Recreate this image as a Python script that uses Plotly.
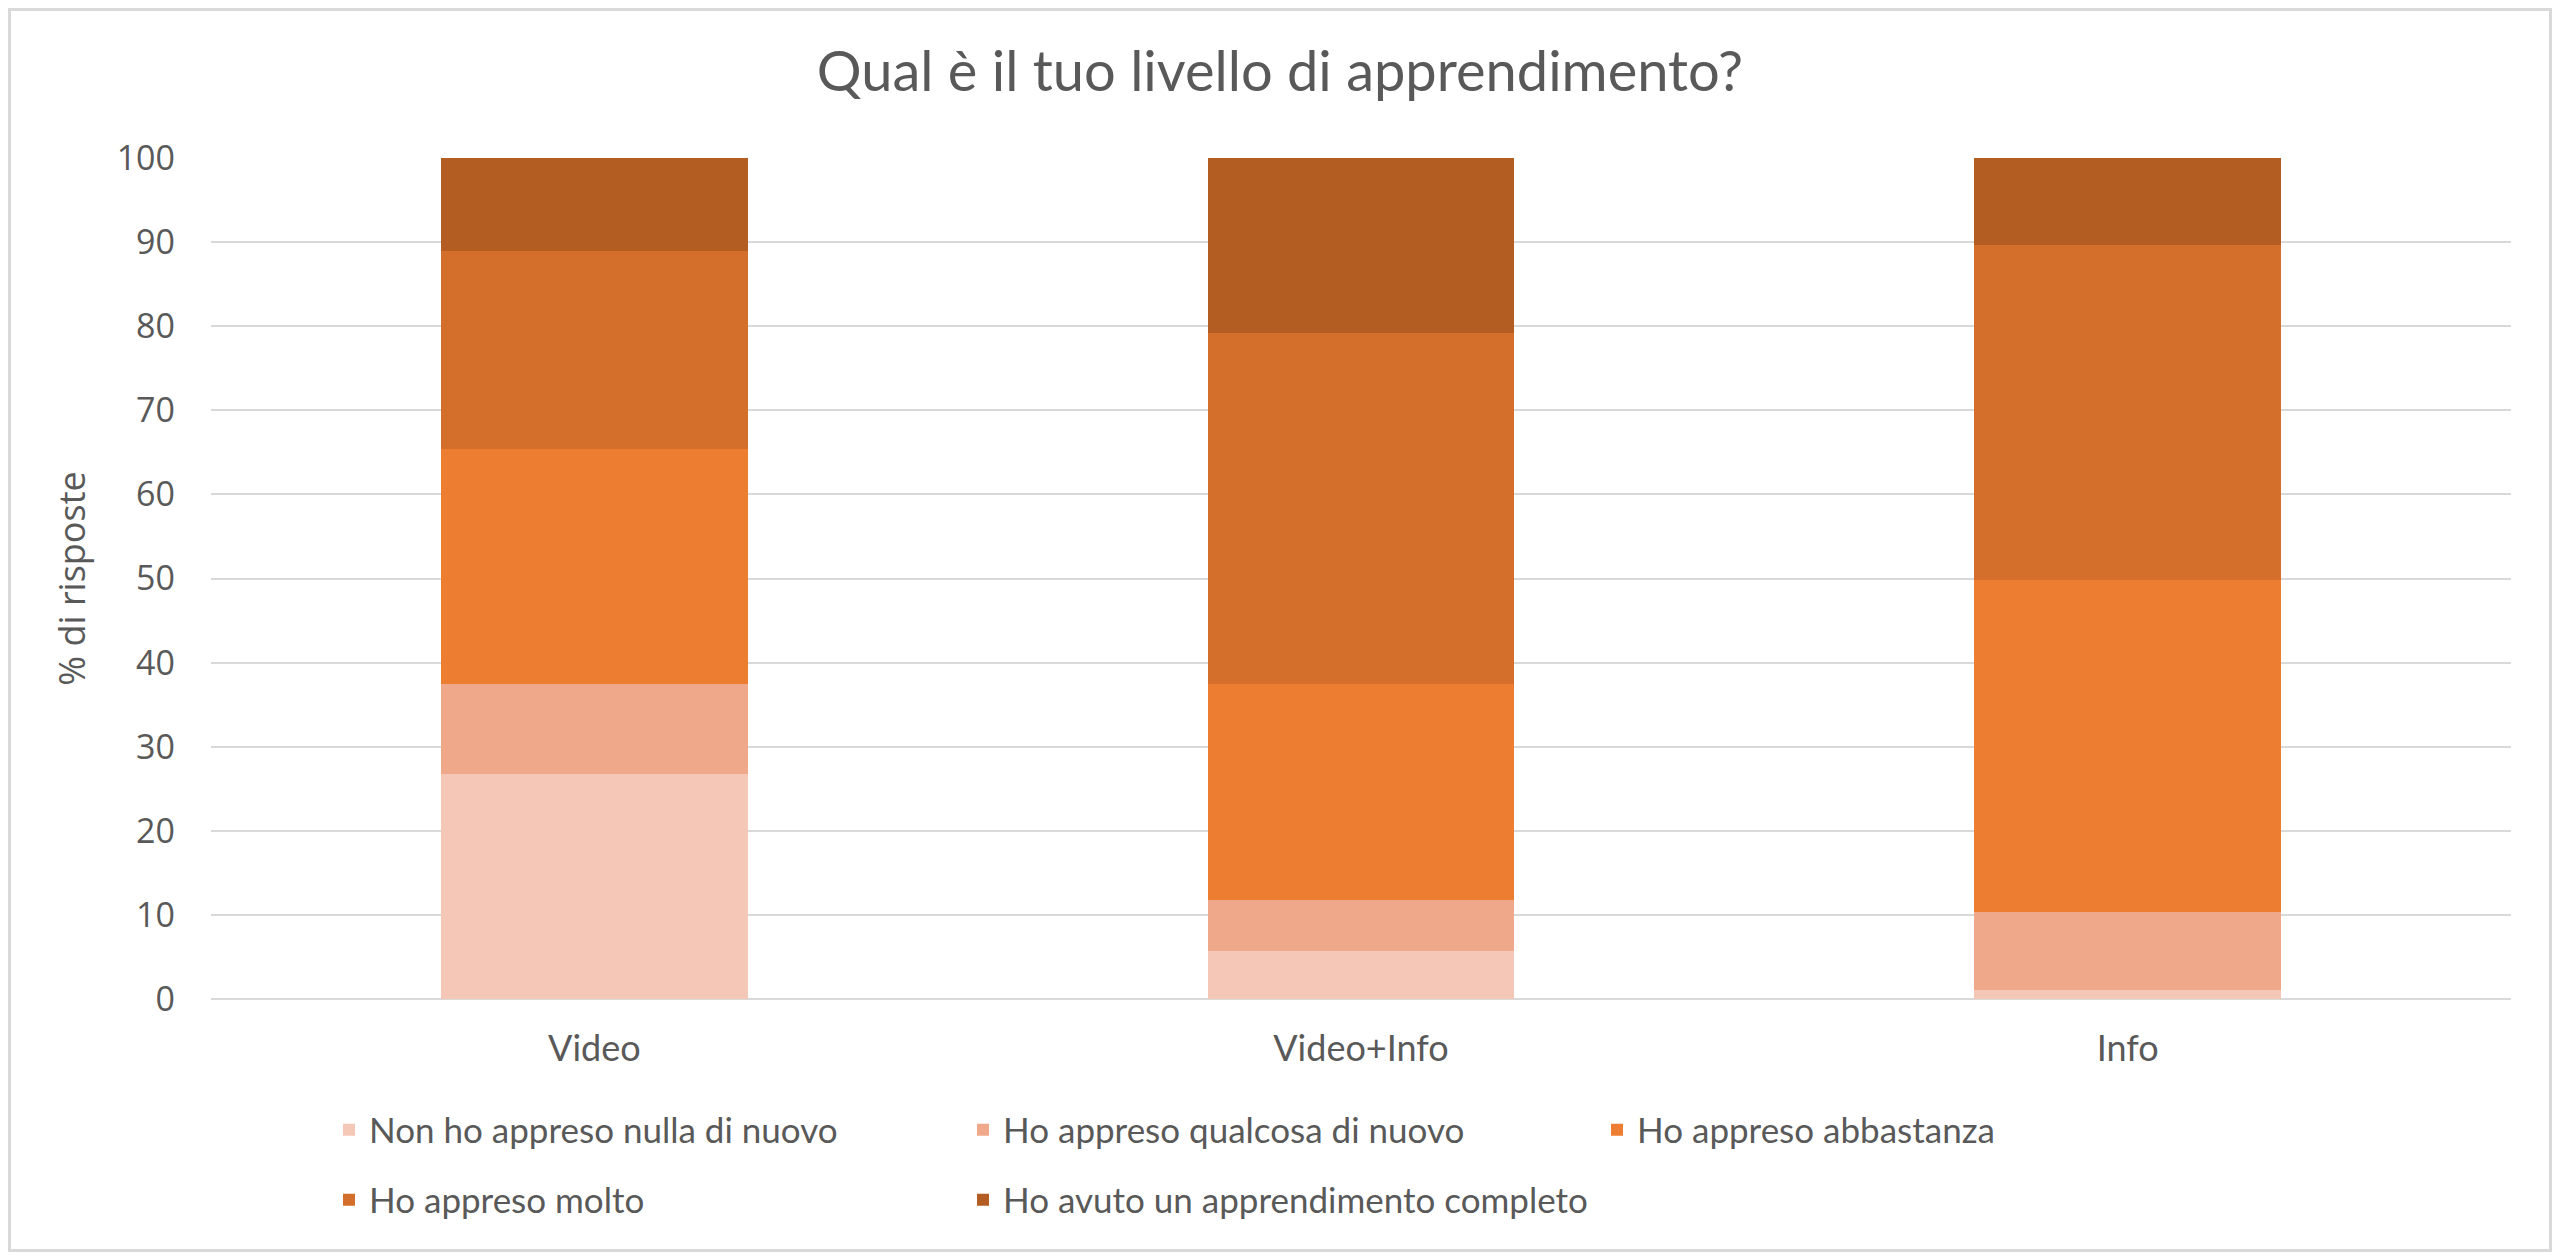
import plotly.graph_objects as go

# categories and stacked values (% of responses), bottom to top
categories = ["Video", "Video+Info", "Info"]
series_names = [
    "Non ho appreso nulla di nuovo",
    "Ho appreso qualcosa di nuovo",
    "Ho appreso abbastanza",
    "Ho appreso molto",
    "Ho avuto un apprendimento completo",
]
nulla = [26.7, 5.7, 1.1]
qualcosa = [10.7, 6.1, 9.3]
abbastanza = [28.0, 25.7, 39.4]
molto = [23.5, 41.7, 39.8]
completo = [11.1, 20.8, 10.4]

colors = ["#F4C7B7", "#F0A88A", "#ED7D31", "#D36F2B", "#B45D22"]
y_ticks = [0, 10, 20, 30, 40, 50, 60, 70, 80, 90, 100]

# page has an 8px body margin, so the figure is a bit smaller than the window
# and all positions below are given in window pixels minus that offset
OFF = 8
W, H = 2560 - 2 * OFF, 1260 - 2 * OFF
M_L, M_R, M_T, M_B = 211 - OFF, W - (2511 - OFF), 158 - OFF, H - (999 - OFF)
PW, PH = W - M_L - M_R, H - M_T - M_B


def px_x(x):
    # window pixel x -> paper x
    return (x - OFF - M_L) / PW


def px_y(y):
    # window pixel y (from top) -> paper y
    return (H - (y - OFF) - M_B) / PH


text_col = "#595959"
grid_col = "#D9D9D9"

fig = go.Figure()

all_values = [nulla, qualcosa, abbastanza, molto, completo]
for i, (name, vals) in enumerate(zip(series_names, all_values)):
    fig.add_trace(
        go.Bar(
            x=categories,
            y=vals,
            name=name,
            marker=dict(color=colors[i], line=dict(width=0)),
            legend="legend" if i < 3 else "legend2",
        )
    )

legend_common = dict(
    orientation="h",
    xanchor="left",
    yanchor="middle",
    x=px_x(329),
    entrywidth=589,
    entrywidthmode="pixels",
    font=dict(family="Lato", size=35, color=text_col),
    bgcolor="rgba(0,0,0,0)",
    traceorder="normal",
)

fig.update_layout(
    width=W,
    height=H,
    barmode="stack",
    bargap=0.6,
    paper_bgcolor="white",
    plot_bgcolor="white",
    margin=dict(l=M_L, r=M_R, t=M_T, b=M_B, autoexpand=False),
    title=dict(
        text="Qual è il tuo livello di apprendimento?",
        x=0.5,
        xanchor="center",
        y=1 - (71 - OFF) / H,
        yanchor="middle",
        font=dict(family="Lato", size=56, color=text_col),
    ),
    legend=dict(y=px_y(1130), **legend_common),
    legend2=dict(y=px_y(1200), **legend_common),
    showlegend=True,
)

fig.update_yaxes(
    range=[0, 100],
    tickvals=y_ticks,
    showgrid=True,
    gridcolor=grid_col,
    gridwidth=2,
    zeroline=True,
    zerolinecolor=grid_col,
    zerolinewidth=2,
    showline=False,
    ticks="",
    ticklabelstandoff=35,
    tickfont=dict(family="Open Sans", size=34, color=text_col),
    title=dict(
        text="% di risposte",
        standoff=20,
        font=dict(family="Open Sans", size=36, color=text_col),
    ),
)

fig.update_xaxes(
    showgrid=False,
    showline=False,
    ticks="",
    ticklabelstandoff=25,
    tickfont=dict(family="Lato", size=36, color=text_col),
)

# light grey frame round the whole chart
fig.add_shape(
    type="rect",
    xref="paper",
    yref="paper",
    x0=px_x(OFF + 1.5),
    x1=px_x(OFF + W - 1.5),
    y0=px_y(OFF + H - 1.5),
    y1=px_y(OFF + 1.5),
    line=dict(color=grid_col, width=3),
    fillcolor="rgba(0,0,0,0)",
    layer="below",
)

fig.write_html("out.html")
